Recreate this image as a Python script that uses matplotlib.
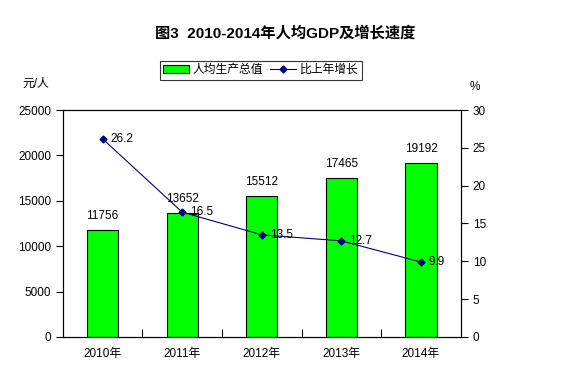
import numpy as np
import matplotlib
matplotlib.use('Agg')
from matplotlib import pyplot as plt
from matplotlib.lines import Line2D
from matplotlib.patches import Patch

plt.rcParams['font.family'] = ['Liberation Sans', 'Noto Sans CJK SC']

years = ['2010年', '2011年', '2012年', '2013年', '2014年']
gdp = [11756, 13652, 15512, 17465, 19192]
growth = [26.2, 16.5, 13.5, 12.7, 9.9]

fig = plt.figure(figsize=(5.71, 3.85), dpi=100)
ax = fig.add_axes([0.110, 0.125, 0.697, 0.589])
ax2 = ax.twinx()

x = np.arange(len(years))
ax.bar(x, gdp, width=0.39, color='#00ff00', edgecolor='black', linewidth=0.8, zorder=2)
for i, v in enumerate(gdp):
    ax.text(x[i], v + 900, str(v), ha='center', va='bottom', fontsize=8.5)

ax2.plot(x, growth, color='#000080', linewidth=0.8, marker='D', markersize=3.5, zorder=3)
for i, v in enumerate(growth):
    ax2.text(x[i] + 0.1, v, str(v), ha='left', va='center', fontsize=8.5)

ax.set_xlim(-0.5, 4.5)
ax.set_ylim(0, 25000)
ax.set_yticks(range(0, 25001, 5000))
ax2.set_ylim(0, 30)
ax2.set_yticks(range(0, 31, 5))

ax.set_xticks(x)
ax.set_xticklabels(years, fontsize=8.5)
ax.set_xticks([0.5, 1.5, 2.5, 3.5], minor=True)
ax.tick_params(axis='x', which='major', length=0, pad=8)
ax.tick_params(axis='x', which='minor', direction='in', length=6, width=0.8)
ax.tick_params(axis='y', labelsize=8.5, length=5, width=0.8, direction='out')
ax2.tick_params(axis='y', labelsize=8.5, length=5, width=0.8, direction='out')

for a in (ax, ax2):
    for s in a.spines.values():
        s.set_linewidth(0.8)

ax.set_zorder(ax2.get_zorder() - 1)
ax2.patch.set_visible(False)

fig.text(0.5, 0.915, '图3  2010-2014年人均GDP及增长速度', ha='center', va='center',
         fontsize=11, fontweight='bold')
fig.text(0.040, 0.782, '元/人', ha='left', va='center', fontsize=8.5)
fig.text(0.822, 0.775, '%', ha='left', va='center', fontsize=8.5)

handles = [Patch(facecolor='#00ff00', edgecolor='black', linewidth=0.8),
           Line2D([], [], color='#000080', linewidth=0.8, marker='D', markersize=3.5)]
leg = fig.legend(handles, ['人均生产总值', '比上年增长'], loc='center',
                 bbox_to_anchor=(0.457, 0.818), ncol=2, fontsize=8.5, frameon=True,
                 fancybox=False, edgecolor='black', borderpad=0.3, handlelength=2.2,
                 handletextpad=0.3, columnspacing=0.6, borderaxespad=0)
leg.get_frame().set_linewidth(0.8)

fig.savefig('out.png', dpi=100)
